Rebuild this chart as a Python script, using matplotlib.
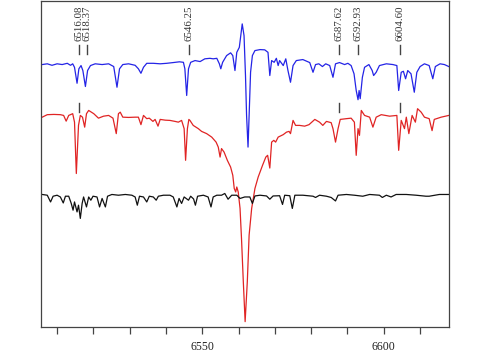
import matplotlib
matplotlib.use("Agg")
import matplotlib.pyplot as plt
from matplotlib.ticker import MultipleLocator, FuncFormatter

plt.rcParams['font.family'] = ['Liberation Serif', 'DejaVu Serif']

# blue spectrum (top)
blue_wave = [6505.9, 6507.3, 6508.6, 6510.0, 6511.4, 6512.8, 6513.7, 6514.3, 6514.8, 6515.5,
             6516.0, 6516.6, 6517.1, 6517.8, 6518.4, 6519.2, 6520.5, 6522.4, 6524.2, 6525.6,
             6526.5, 6527.2, 6528.1, 6529.7, 6531.5, 6532.4, 6533.1, 6533.8, 6534.7, 6536.5,
             6538.4, 6540.2, 6542.0, 6543.7, 6544.8, 6545.2, 6545.7, 6546.2, 6546.8, 6548.0,
             6549.4, 6550.7, 6552.1, 6553.0, 6554.0, 6554.7, 6555.1, 6555.6, 6556.7, 6557.8,
             6558.4, 6559.0, 6559.5, 6560.2, 6560.6, 6561.0, 6561.5, 6561.9, 6562.2, 6562.6,
             6562.9, 6563.3, 6563.8, 6564.5, 6565.9, 6567.2, 6568.1, 6568.6, 6569.1, 6569.8,
             6570.4, 6570.9, 6571.3, 6572.3, 6573.0, 6573.6, 6574.3, 6575.0, 6575.9, 6577.7,
             6579.6, 6580.5, 6581.2, 6582.1, 6583.1, 6584.0, 6585.1, 6586.0, 6586.7, 6587.8,
             6589.2, 6590.1, 6591.0, 6591.8, 6592.4, 6592.9, 6593.2, 6593.5, 6594.1, 6594.7,
             6595.9, 6596.8, 6597.2, 6597.9, 6598.8, 6600.7, 6602.5, 6603.6, 6604.1, 6604.8,
             6605.4, 6606.0, 6606.6, 6607.5, 6608.4, 6609.1, 6610.0, 6611.2, 6612.5, 6613.5,
             6614.2, 6615.5, 6616.7, 6617.9]
blue_flux = [0.996, 0.999, 0.993, 0.999, 0.996, 1.001, 0.993, 0.999, 0.985, 0.921,
             0.979, 0.992, 0.972, 0.908, 0.972, 0.992, 0.999, 0.996, 0.999, 0.988,
             0.905, 0.979, 0.996, 0.999, 0.993, 0.979, 0.961, 0.985, 1.001, 1.001,
             0.999, 1.001, 1.004, 1.007, 1.005, 0.979, 0.872, 0.979, 1.005, 1.012,
             1.008, 1.019, 1.021, 1.019, 1.021, 0.999, 0.979, 1.005, 1.032, 1.043,
             1.032, 0.972, 1.045, 1.065, 1.112, 1.159, 1.112, 0.952, 0.792, 0.665,
             0.792, 0.965, 1.032, 1.052, 1.056, 1.055, 1.045, 0.952, 1.012, 1.005,
             1.021, 0.992, 1.012, 0.992, 1.019, 0.972, 0.925, 0.992, 1.012, 1.016,
             1.004, 0.965, 0.996, 0.999, 0.988, 0.999, 0.992, 0.945, 0.999, 1.004,
             0.996, 1.001, 0.992, 0.959, 0.892, 0.855, 0.892, 0.859, 0.945, 0.985,
             0.996, 0.972, 0.952, 0.965, 0.992, 0.999, 0.996, 0.992, 0.892, 0.965,
             0.969, 0.939, 0.972, 0.959, 0.885, 0.965, 0.988, 0.999, 0.992, 0.939,
             0.988, 0.999, 0.996, 0.988]

# red spectrum (middle)
red_wave = [6505.9, 6507.3, 6509.1, 6510.9, 6511.8, 6512.5, 6513.2, 6514.3, 6514.8, 6515.3,
            6515.9, 6516.4, 6517.0, 6517.6, 6518.1, 6518.7, 6520.1, 6521.4, 6522.8, 6524.2,
            6525.4, 6526.3, 6526.9, 6527.4, 6528.1, 6529.7, 6531.5, 6532.4, 6533.1, 6533.8,
            6534.7, 6535.4, 6536.4, 6537.0, 6537.8, 6538.4, 6539.8, 6541.1, 6542.5, 6543.4,
            6544.3, 6545.0, 6545.4, 6545.9, 6546.3, 6546.6, 6547.5, 6548.9, 6549.8, 6551.2,
            6552.6, 6553.8, 6554.4, 6554.9, 6555.3, 6556.0, 6556.9, 6557.8, 6558.4, 6558.8,
            6559.2, 6559.5, 6559.9, 6560.4, 6560.8, 6561.3, 6561.8, 6562.4, 6562.9, 6563.6,
            6564.5, 6565.4, 6566.6, 6567.5, 6568.0, 6568.6, 6569.1, 6569.7, 6570.2, 6570.9,
            6572.3, 6573.2, 6573.9, 6574.3, 6575.0, 6575.7, 6576.8, 6578.2, 6579.4, 6581.0,
            6582.3, 6583.2, 6584.2, 6585.5, 6586.0, 6586.7, 6587.4, 6588.0, 6589.7, 6591.0,
            6591.9, 6592.4, 6592.9, 6593.3, 6593.8, 6594.7, 6596.1, 6597.0, 6597.9, 6599.3,
            6601.6, 6603.6, 6604.1, 6604.8, 6605.7, 6606.2, 6606.9, 6607.8, 6608.7, 6609.3,
            6610.3, 6611.2, 6612.5, 6613.3, 6613.9, 6615.8, 6617.9]
red_flux = [0.989, 0.999, 1.000, 0.999, 0.996, 0.973, 0.996, 1.003, 0.969, 0.763,
            0.956, 0.996, 0.989, 0.949, 1.003, 1.016, 1.003, 0.985, 0.993, 0.996,
            0.985, 0.923, 1.003, 1.009, 0.989, 0.988, 0.989, 0.989, 0.959, 0.996,
            0.983, 0.985, 0.972, 0.980, 0.953, 0.980, 0.977, 0.976, 0.972, 0.969,
            0.976, 0.943, 0.816, 0.943, 0.980, 0.976, 0.956, 0.943, 0.932, 0.923,
            0.909, 0.889, 0.869, 0.829, 0.863, 0.849, 0.816, 0.789, 0.756, 0.703,
            0.689, 0.709, 0.689, 0.623, 0.503, 0.329, 0.169, 0.329, 0.516, 0.623,
            0.703, 0.749, 0.796, 0.829, 0.836, 0.785, 0.889, 0.896, 0.889, 0.909,
            0.919, 0.929, 0.932, 0.923, 0.976, 0.956, 0.956, 0.953, 0.959, 0.980,
            0.969, 0.956, 0.972, 0.967, 0.943, 0.889, 0.943, 0.980, 0.983, 0.985,
            0.969, 0.836, 0.943, 0.916, 1.016, 0.996, 0.989, 0.949, 0.989, 0.999,
            0.993, 0.996, 0.856, 0.976, 0.943, 0.989, 0.923, 0.996, 0.969, 1.023,
            1.009, 0.989, 0.983, 0.935, 0.980, 0.989, 0.996]

# black spectrum (bottom)
black_wave = [6505.9, 6507.3, 6508.2, 6508.9, 6510.0, 6510.9, 6511.7, 6512.3, 6513.2, 6513.9,
              6514.4, 6514.8, 6515.5, 6515.9, 6516.4, 6516.9, 6517.3, 6518.1, 6518.7, 6519.3,
              6519.9, 6521.0, 6521.7, 6522.4, 6523.3, 6523.9, 6525.1, 6526.9, 6528.8, 6530.6,
              6531.5, 6532.1, 6532.7, 6533.8, 6534.7, 6535.4, 6536.5, 6537.3, 6537.9, 6539.3,
              6541.1, 6542.0, 6543.0, 6543.6, 6544.3, 6545.0, 6546.2, 6546.8, 6547.6, 6548.1,
              6548.7, 6550.3, 6551.6, 6552.4, 6553.0, 6554.0, 6555.3, 6556.2, 6557.1, 6558.1,
              6559.5, 6560.4, 6561.7, 6563.1, 6563.8, 6564.5, 6565.9, 6567.7, 6568.6, 6569.5,
              6571.3, 6572.1, 6572.7, 6574.1, 6574.8, 6575.5, 6577.7, 6580.5, 6581.2, 6582.3,
              6584.2, 6585.5, 6586.7, 6587.4, 6589.7, 6591.9, 6594.2, 6596.1, 6598.8, 6599.6,
              6600.7, 6602.0, 6603.4, 6606.2, 6608.9, 6611.6, 6612.5, 6615.3, 6617.9]
black_flux = [1.003, 1.000, 0.973, 0.996, 1.000, 0.993, 0.969, 0.996, 0.996, 0.967,
              0.940, 0.973, 0.933, 0.960, 0.907, 0.967, 0.993, 0.953, 0.993, 0.980,
              0.996, 0.993, 0.953, 0.987, 0.953, 0.996, 1.003, 1.000, 1.003, 1.000,
              0.993, 0.960, 0.996, 0.993, 0.973, 0.996, 0.993, 0.980, 0.996, 1.000,
              1.000, 0.993, 0.953, 0.987, 0.967, 0.993, 0.980, 0.996, 0.985, 0.960,
              0.996, 1.000, 0.993, 0.953, 0.993, 1.000, 1.000, 1.007, 0.984, 1.000,
              1.000, 0.987, 0.993, 0.993, 0.967, 0.997, 1.000, 0.997, 0.984, 0.997,
              0.998, 0.963, 1.000, 0.998, 0.947, 1.000, 1.000, 0.996, 0.991, 1.000,
              0.996, 0.991, 0.977, 1.000, 1.003, 1.000, 0.996, 1.003, 1.000, 0.991,
              1.000, 0.993, 1.003, 1.003, 1.000, 0.996, 0.996, 1.003, 1.003]

# marked line wavelengths
line_labels = ['6516.08', '6518.37', '6546.25', '6587.62', '6592.93', '6604.60']
line_waves = [6516.08, 6518.37, 6546.25, 6587.62, 6592.93, 6604.60]
# lines also ticked above the red spectrum
red_marks = [6516.08, 6587.62, 6604.60]

offsets = {'black': 0.0, 'red': 0.324, 'blue': 0.528}

fig = plt.figure(figsize=(4.91, 3.60), dpi=100)
ax = fig.add_axes([0.083, 0.092, 0.831, 0.906])

ax.plot(blue_wave, [f + offsets['blue'] for f in blue_flux], color='#2424e6', lw=0.9)
ax.plot(red_wave, [f + offsets['red'] for f in red_flux], color='#e02424', lw=0.9)
ax.plot(black_wave, [f + offsets['black'] for f in black_flux], color='#111111', lw=0.9)

for lab, w in zip(line_labels, line_waves):
    ax.plot([w, w], [1.566, 1.604], color='#444444', lw=1.0)
    ax.text(w, 1.618, lab, rotation=90, ha='center', va='bottom',
            fontsize=7.8, color='#333333')
for w in red_marks:
    ax.plot([w, w], [1.332, 1.368], color='#444444', lw=1.0)

ax.set_xlim(6505.5, 6617.9)
ax.set_ylim(0.472, 1.78)
ax.set_yticks([])
ax.xaxis.set_major_locator(MultipleLocator(10))
ax.xaxis.set_major_formatter(FuncFormatter(lambda v, p: f"{v:.0f}" if round(v) % 50 == 0 else ""))
ax.tick_params(axis='x', direction='out', length=5, width=0.9, color='#444444',
               labelsize=8.5, labelcolor='#222222', pad=5)
for s in ax.spines.values():
    s.set_color('#444444')
    s.set_linewidth(0.9)

fig.savefig('out.png', dpi=100)
